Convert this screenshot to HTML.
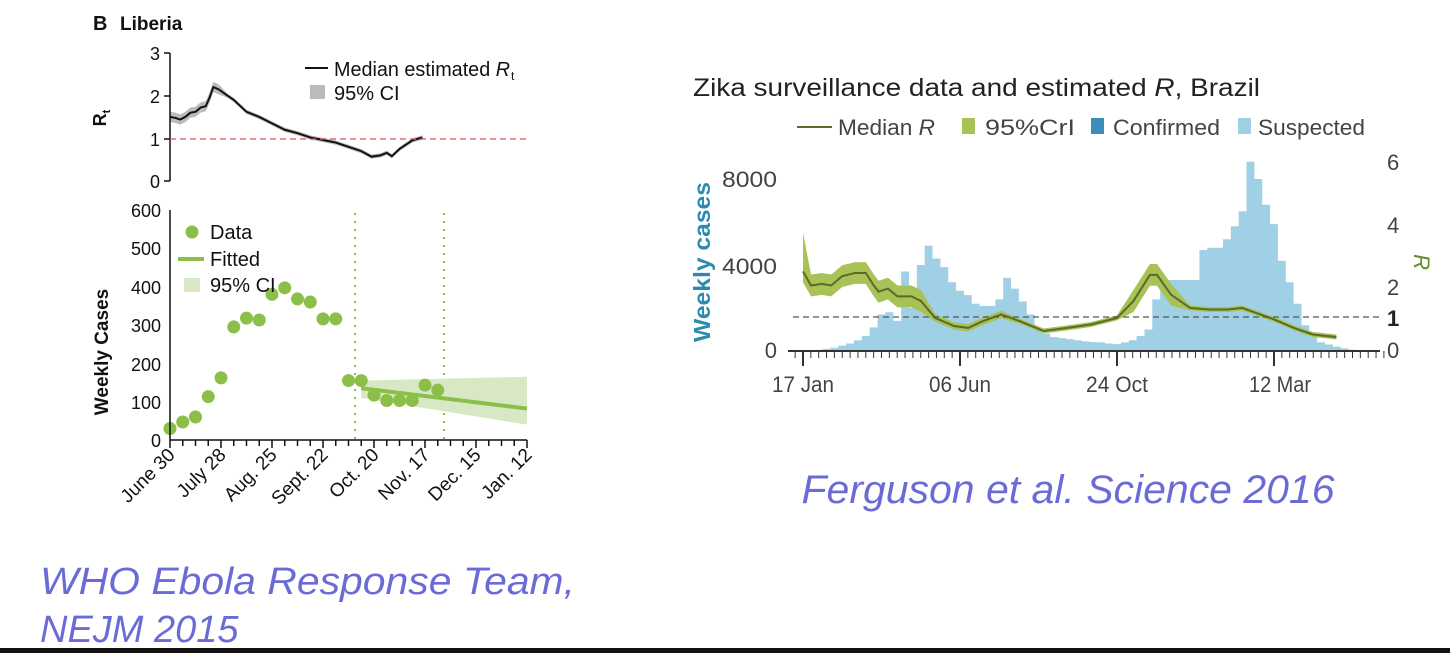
<!DOCTYPE html>
<html><head><meta charset="utf-8"><style>
html,body{margin:0;padding:0;background:#fff;width:1450px;height:653px;overflow:hidden}
svg{display:block}
.s{font-family:"Liberation Sans",sans-serif}
.n{font-family:"Liberation Sans Narrow","Liberation Sans",sans-serif}
</style></head><body>
<svg id="svg" width="1450" height="653" xmlns="http://www.w3.org/2000/svg">
<!-- LEFT CHART -->
<text x="93" y="30" class="s" font-size="20" font-weight="bold" fill="#111">B</text>
<text x="120" y="30" class="s" font-size="19" font-weight="bold" fill="#111">Liberia</text>
<g id="rtg"></g>
<line x1="170" y1="53" x2="170" y2="181" stroke="#111" stroke-width="1.5"/>
<g stroke="#111" stroke-width="1.5">
<line x1="164" y1="53" x2="170" y2="53"/><line x1="164" y1="96" x2="170" y2="96"/><line x1="164" y1="139" x2="170" y2="139"/><line x1="164" y1="181" x2="170" y2="181"/>
</g>
<g class="s" font-size="18" fill="#111" text-anchor="end">
<text x="160" y="60">3</text><text x="160" y="103">2</text><text x="160" y="146">1</text><text x="160" y="188">0</text>
</g>
<text transform="translate(106,118) rotate(-90)" class="s" font-size="18" font-weight="bold" text-anchor="middle" fill="#111">R<tspan font-size="11" dy="4">t</tspan></text>
<line x1="170" y1="139" x2="527" y2="139" stroke="#e05050" stroke-width="1.3" stroke-dasharray="6,4"/>
<line x1="305" y1="68" x2="328" y2="68" stroke="#111" stroke-width="2"/>
<text x="334" y="76" class="s" font-size="20" fill="#111" textLength="176" lengthAdjust="spacingAndGlyphs">Median estimated <tspan font-style="italic">R</tspan></text>
<text x="511" y="80" class="s" font-size="12" fill="#111">t</text>
<rect x="310" y="85" width="15" height="14" fill="#bbb"/>
<text x="334" y="100" class="s" font-size="20" fill="#111">95% CI</text>

<!-- lower panel -->
<line x1="355" y1="213" x2="355" y2="440" stroke="#8cbf4a" stroke-width="2" stroke-dasharray="2,6"/>
<line x1="444" y1="213" x2="444" y2="440" stroke="#8cbf4a" stroke-width="2" stroke-dasharray="2,6"/>
<g id="lower"></g>
<line x1="170" y1="210" x2="170" y2="440" stroke="#111" stroke-width="1.5"/>
<line x1="170" y1="440" x2="527" y2="440" stroke="#111" stroke-width="1.5"/>
<g class="s" font-size="18" fill="#111" text-anchor="end">
<text x="161" y="217">600</text><text x="161" y="255">500</text><text x="161" y="294">400</text><text x="161" y="332">300</text><text x="161" y="371">200</text><text x="161" y="409">100</text><text x="161" y="447">0</text>
</g>
<text transform="translate(108,352) rotate(-90)" class="s" font-size="19" font-weight="bold" text-anchor="middle" fill="#111">Weekly Cases</text>
<circle cx="192" cy="232" r="6.5" fill="#8cbf4a"/>
<text x="210" y="239" class="s" font-size="20" fill="#111">Data</text>
<line x1="178" y1="259" x2="204" y2="259" stroke="#8cbf4a" stroke-width="4"/>
<text x="210" y="266" class="s" font-size="20" fill="#111">Fitted</text>
<rect x="184" y="278" width="16" height="14" fill="#d9e8c4"/>
<text x="210" y="292" class="s" font-size="20" fill="#111">95% CI</text>
<g class="s" font-size="19" fill="#111" text-anchor="end">
<text transform="translate(176,456) rotate(-45)">June 30</text>
<text transform="translate(227,456) rotate(-45)">July 28</text>
<text transform="translate(278,456) rotate(-45)">Aug. 25</text>
<text transform="translate(329,456) rotate(-45)">Sept. 22</text>
<text transform="translate(380,456) rotate(-45)">Oct. 20</text>
<text transform="translate(431,456) rotate(-45)">Nov. 17</text>
<text transform="translate(482,456) rotate(-45)">Dec. 15</text>
<text transform="translate(533,456) rotate(-45)">Jan. 12</text>
</g>
<text x="40" y="594" class="s" font-size="38" font-style="italic" fill="#6b6bd6" textLength="535" lengthAdjust="spacingAndGlyphs">WHO Ebola Response Team,</text>
<text x="40" y="642" class="s" font-size="38" font-style="italic" fill="#6b6bd6">NEJM 2015</text>

<!-- RIGHT CHART -->
<text x="693" y="96" class="n" font-size="25" fill="#222" textLength="567" lengthAdjust="spacingAndGlyphs">Zika surveillance data and estimated <tspan font-style="italic">R</tspan>, Brazil</text>
<line x1="797" y1="127" x2="832" y2="127" stroke="#5a6a2a" stroke-width="2"/>
<text x="838" y="135" class="n" font-size="22" fill="#444" textLength="97" lengthAdjust="spacingAndGlyphs">Median <tspan font-style="italic">R</tspan></text>
<rect x="962" y="118" width="13" height="16" fill="#a8c256"/>
<text x="985" y="135" class="n" font-size="22" fill="#444" textLength="90" lengthAdjust="spacingAndGlyphs">95%CrI</text>
<rect x="1091" y="118" width="13" height="16" fill="#3a8fb8"/>
<text x="1113" y="135" class="n" font-size="22" fill="#444" textLength="107" lengthAdjust="spacingAndGlyphs">Confirmed</text>
<rect x="1238" y="118" width="13" height="16" fill="#9fd0e6"/>
<text x="1258" y="135" class="n" font-size="22" fill="#444" textLength="107" lengthAdjust="spacingAndGlyphs">Suspected</text>
<g id="right"></g>
<line x1="793" y1="317" x2="1382" y2="317" stroke="#555" stroke-width="1.3" stroke-dasharray="6,4"/>
<line x1="788" y1="351" x2="1380" y2="351" stroke="#333" stroke-width="2"/>
<g id="rticks" stroke="#333" stroke-width="1"></g>
<g class="n" font-size="22" fill="#444" text-anchor="end">
<text x="777" y="187" textLength="55" lengthAdjust="spacingAndGlyphs">8000</text><text x="777" y="274" textLength="55" lengthAdjust="spacingAndGlyphs">4000</text><text x="777" y="358">0</text>
</g>
<g class="n" font-size="22" fill="#444">
<text x="1387" y="170">6</text><text x="1387" y="233">4</text><text x="1387" y="295">2</text><text x="1387" y="326" font-weight="bold" fill="#222">1</text><text x="1387" y="358">0</text>
</g>
<text transform="translate(1414,262) rotate(90)" class="n" font-size="22" font-style="italic" fill="#6a8a30" text-anchor="middle">R</text>
<text transform="translate(710,262) rotate(-90)" class="n" font-size="23" font-weight="bold" fill="#2a8cb0" text-anchor="middle" textLength="160" lengthAdjust="spacingAndGlyphs">Weekly cases</text>
<g class="n" font-size="22" fill="#444" text-anchor="middle">
<text x="803" y="392" textLength="62" lengthAdjust="spacingAndGlyphs">17 Jan</text><text x="960" y="392" textLength="62" lengthAdjust="spacingAndGlyphs">06 Jun</text><text x="1117" y="392" textLength="62" lengthAdjust="spacingAndGlyphs">24 Oct</text><text x="1280" y="392" textLength="62" lengthAdjust="spacingAndGlyphs">12 Mar</text>
</g>
<text x="1068" y="503" class="s" font-size="40" font-style="italic" fill="#6b6bd6" text-anchor="middle" textLength="533" lengthAdjust="spacingAndGlyphs">Ferguson et al. Science 2016</text>

<rect x="0" y="648" width="1450" height="5" fill="#111"/>
</svg>
<script>
var NS="http://www.w3.org/2000/svg";
function el(p,t,a){var e=document.createElementNS(NS,t);for(var k in a)e.setAttribute(k,a[k]);document.getElementById(p).appendChild(e);return e;}
var wx=function(w){return 170+w*12.75};
var ry=function(r){return 181-r*42.7};
var rt=[[0,1.5],[0.4,1.48],[0.8,1.44],[1.2,1.5],[1.6,1.6],[2,1.62],[2.4,1.72],[2.8,1.75],[3.1,1.95],[3.4,2.2],[3.8,2.15],[4.5,2.0],[5,1.9],[6,1.62],[7,1.5],[8,1.35],[9,1.2],[10,1.12],[11,1.02],[12,0.96],[13,0.9],[14,0.8],[15,0.7],[15.8,0.57],[16.5,0.6],[17,0.66],[17.4,0.58],[18,0.75],[19,0.95],[19.8,1.02]];
var up=rt.map(function(p){return wx(p[0])+","+ry(p[1]+(p[0]<4?0.12:0.05))});
var lo=rt.slice().reverse().map(function(p){return wx(p[0])+","+ry(p[1]-(p[0]<4?0.12:0.05))});
el("rtg","polygon",{points:up.concat(lo).join(" "),fill:"#bbb"});
el("rtg","polyline",{points:rt.map(function(p){return wx(p[0])+","+ry(p[1])}).join(" "),fill:"none",stroke:"#111","stroke-width":2});
var cy=function(v){return 440-v*230/600};
el("lower","polygon",{points:[wx(15)+","+cy(155),wx(28)+","+cy(165),wx(28)+","+cy(40),wx(15)+","+cy(110)].join(" "),fill:"#d9e8c4"});
el("lower","line",{x1:wx(15),y1:cy(135),x2:wx(28),y2:cy(82),stroke:"#8cbf4a","stroke-width":4});
var d=[30,47,60,113,162,295,318,313,380,397,368,360,316,316,155,155,117,103,103,103,143,130];
d.forEach(function(v,i){el("lower","circle",{cx:wx(i),cy:cy(v),r:6.5,fill:"#8cbf4a"})});
for(var i=0;i<=28;i++){el("lower","line",{x1:wx(i),y1:440,x2:wx(i),y2:i%4==0?448:446,stroke:"#111","stroke-width":1.5})}
var X=function(w){return 803+w*7.85};
var Yc=function(c){return 351-c/8000*172};
var Yr=function(r){return 351-r*31.2};
var bars={"-1":0,0:30,1:40,2:60,3:100,4:150,5:250,6:350,7:500,8:700,9:1100,10:1700,11:1800,12:1400,13:3700,14:2000,15:4000,16:4900,17:4300,18:3900,19:3200,20:2800,21:2600,22:2200,23:2100,24:2100,25:2400,26:3400,27:2900,28:2300,29:1700,30:1000,31:800,32:650,33:600,34:550,35:500,36:450,37:420,38:400,39:350,40:320,41:400,42:500,43:700,44:1000,45:2400,46:3300,47:3300,48:3300,49:3300,50:3300,51:4700,52:4800,53:4800,54:5200,55:5800,56:6500,57:8800,58:8000,59:6800,60:5900,61:4200,62:3200,63:2200,64:1200,65:700,66:400,67:300,68:200,69:120,70:60,71:20};
var pts=[X(-1)+","+Yc(0)];
for(var w=-1;w<=71;w++){var c=bars[w];pts.push(X(w-0.5)+","+Yc(c));pts.push(X(w+0.5)+","+Yc(c));}
pts.push(X(71.5)+","+Yc(0));
el("right","polygon",{points:pts.join(" "),fill:"#9fd0e6"});
var zx=function(x){return (x-240)/16.63};
var R=[[240,2.55],[257,2.1],[280,2.15],[300,2.1],[323,2.4],[350,2.5],[373,2.5],[390,2.1],[400,1.9],[420,2.0],[440,1.75],[470,1.75],[490,1.6],[520,1.06],[560,0.8],[590,0.74],[620,0.95],[660,1.17],[700,0.95],[750,0.64],[800,0.74],[850,0.85],[905,1.06],[940,1.6],[975,2.44],[990,2.44],[1020,1.8],[1060,1.38],[1100,1.33],[1140,1.33],[1170,1.38],[1200,1.22],[1240,1.0],[1280,0.74],[1320,0.53],[1370,0.45]];
function ci(x,r){if(x<500)return 0.35;if(x>930&&x<1040)return 0.35;if(x<700)return 0.12;return 0.08;}
var U=R.map(function(p){return X(zx(p[0]))+","+Yr(p[1]+ci(p[0],p[1])+(p[0]==240?0.9:0))});
var L=R.slice().reverse().map(function(p){return X(zx(p[0]))+","+Yr(p[1]-ci(p[0],p[1]))});
el("right","polygon",{points:U.concat(L).join(" "),fill:"#a8c256"});
el("right","polyline",{points:R.map(function(p){return X(zx(p[0]))+","+Yr(p[1])}).join(" "),fill:"none",stroke:"#5a6a2a","stroke-width":2});
for(var w=-1;w<=74;w++){var big=(w%20==0);el("rticks","line",{x1:X(w),y1:351,x2:X(w),y2:big?366:358,"stroke-width":big?2:1})}
</script>
</body></html>
